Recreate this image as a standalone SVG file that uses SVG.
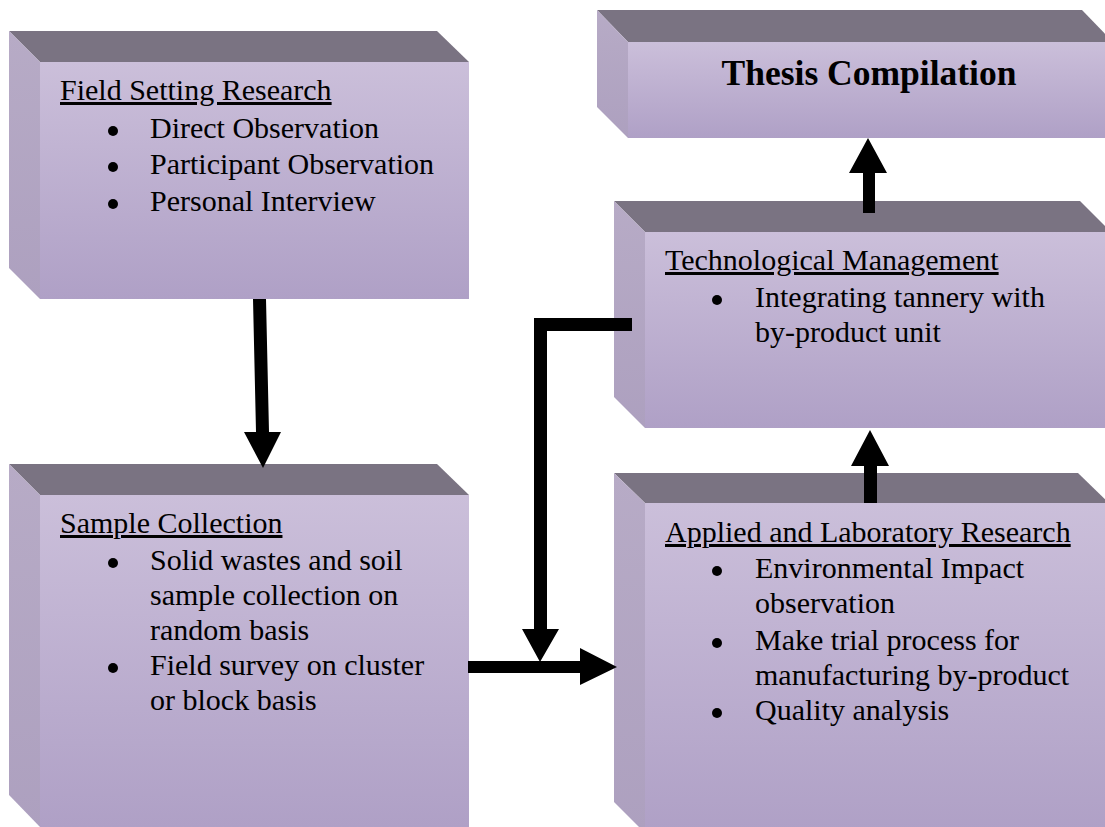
<svg xmlns="http://www.w3.org/2000/svg" width="1105" height="827" viewBox="0 0 1105 827">
<defs>
<linearGradient id="front" x1="0" y1="0" x2="0" y2="1">
<stop offset="0" stop-color="#cbbfda"/>
<stop offset="1" stop-color="#afa0c6"/>
</linearGradient>
<linearGradient id="side" x1="0" y1="0" x2="0" y2="1">
<stop offset="0" stop-color="#b7abc6"/>
<stop offset="1" stop-color="#ada0bf"/>
</linearGradient>
</defs>
<style>
.top{fill:#7a7382}
.front{fill:url(#front)}
.side{fill:url(#side)}
text{font-family:"Liberation Serif","Times New Roman",serif;font-size:30px;fill:#000}
.h{text-decoration:underline}
.dot{fill:#000}
.title{font-weight:bold;font-size:35.5px;text-anchor:middle}
.arrow{fill:#000}
</style>
<rect width="1105" height="827" fill="#fff"/>

<g id="field-setting">
<polygon class="top" points="9,31 437,31 469,62 40,62"/>
<polygon class="side" points="9,31 40,62 40,299 9,268"/>
<rect class="front" x="40" y="62" width="429" height="237"/>
<text class="h" x="60" y="100">Field Setting Research</text>
<circle class="dot" cx="113" cy="131" r="5"/><text x="150" y="138">Direct Observation</text>
<circle class="dot" cx="113" cy="167" r="5"/><text x="150" y="174">Participant Observation</text>
<circle class="dot" cx="113" cy="204" r="5"/><text x="150" y="211">Personal Interview</text>
</g>

<g id="thesis">
<polygon class="top" points="597,10 1082,10 1113,42 628,42"/>
<polygon class="side" points="597,10 628,42 628,138 597,107"/>
<rect class="front" x="628" y="42" width="485" height="96"/>
<text class="title" x="869" y="85">Thesis Compilation</text>
</g>

<g id="technological">
<polygon class="top" points="614,201 1080,201 1111,232 645,232"/>
<polygon class="side" points="614,201 645,232 645,428 614,397"/>
<rect class="front" x="645" y="232" width="466" height="196"/>
<text class="h" x="665" y="270">Technological Management</text>
<circle class="dot" cx="717" cy="300" r="5"/><text x="755" y="307">Integrating tannery with</text>
<text x="755" y="342">by-product unit</text>
</g>

<g id="sample">
<polygon class="top" points="9,464 437,464 469,495 40,495"/>
<polygon class="side" points="9,464 40,495 40,827 9,795"/>
<rect class="front" x="40" y="495" width="429" height="332"/>
<text class="h" x="60" y="533">Sample Collection</text>
<circle class="dot" cx="113" cy="563" r="5"/><text x="150" y="570">Solid wastes and soil</text>
<text x="150" y="605">sample collection on</text>
<text x="150" y="640">random basis</text>
<circle class="dot" cx="113" cy="668" r="5"/><text x="150" y="675">Field survey on cluster</text>
<text x="150" y="710">or block basis</text>
</g>

<g id="applied">
<polygon class="top" points="614,473 1078,473 1109,503 645,503"/>
<polygon class="side" points="614,473 645,503 645,833 614,802"/>
<rect class="front" x="645" y="503" width="464" height="330"/>
<text class="h" x="665" y="542">Applied and Laboratory Research</text>
<circle class="dot" cx="717" cy="571" r="5"/><text x="755" y="578">Environmental Impact</text>
<text x="755" y="613">observation</text>
<circle class="dot" cx="717" cy="643" r="5"/><text x="755" y="650">Make trial process for</text>
<text x="755" y="685">manufacturing by-product</text>
<circle class="dot" cx="717" cy="713" r="5"/><text x="755" y="720">Quality analysis</text>
</g>

<g id="connectors">
<polygon class="arrow" points="253,299 266,299 269,432 281,432 263,468 244,432 256,432"/>
<polygon class="arrow" points="534,318 632,318 632,331 547,331 547,629 559,629 540,662 522,629 534,629"/>
<polygon class="arrow" points="468,661 580,661 580,648 617,667 580,685 580,673 468,673"/>
<polygon class="arrow" points="863,213 863,173 849,173 868,138 887,173 875,173 875,213"/>
<polygon class="arrow" points="864,503 864,466 851,466 870,430 889,466 877,466 877,503"/>
</g>
</svg>
